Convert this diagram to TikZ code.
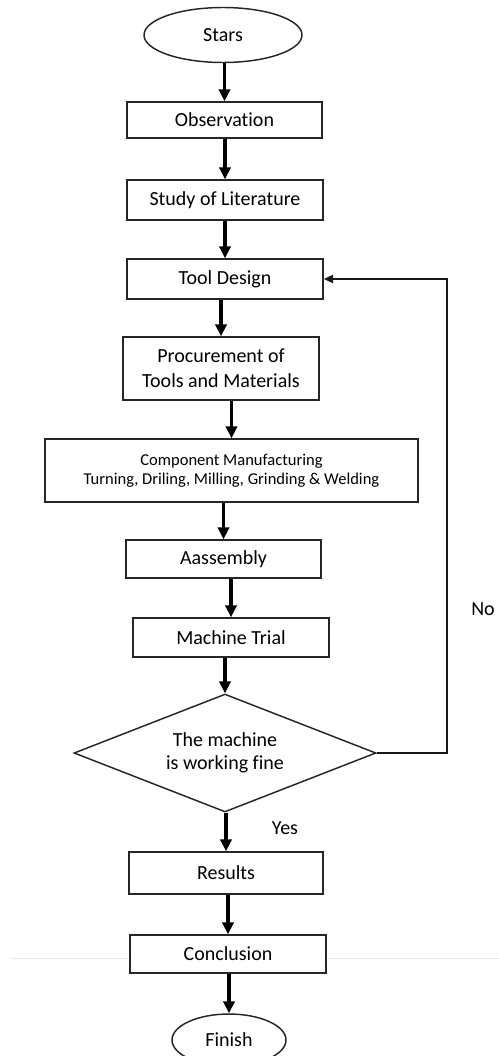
\documentclass[tikz,border=0pt]{standalone}
\usepackage{fontspec}
\setmainfont{Carlito}[Ligatures = NoCommon]
\usetikzlibrary{shapes.geometric, arrows.meta}

\begin{document}
\begin{tikzpicture}[x = .75pt, y = -.75pt,
    box/.style = {draw = black!85, line width = 1.1pt, fill = white, rectangle, align = center, inner sep = 2pt, font = \fontsize{15}{18.75}\selectfont},
    term/.style = {draw = black!85, line width = 1.1pt, fill = white, ellipse, inner sep = 0pt, font = \fontsize{15}{18}\selectfont},
    check/.style = {draw = black!85, line width = 1.1pt, fill = white, diamond, aspect = 2.6, inner sep = 0pt, align = center, font = \fontsize{15}{17.25}\selectfont},
    arr/.style = {line width = 2.4pt, -{Triangle[length = 9pt, width = 8.5pt]}},
    back/.style = {line width = 1.6pt, black!90, -{Triangle[length = 7pt, width = 6pt]}}]
        \useasboundingbox (0, 0) rectangle (499, 1056);
        \draw [gray!18, line width = .7pt] (11, 958) -- (499, 958);

        \node [term, minimum width = 118.5pt, minimum height = 41.25pt] (start) at (223, 35) {Stars};
        \node [box, minimum width = 146.25pt, minimum height = 27pt] (obs) at (224.5, 120) {Observation};
        \node [box, minimum width = 147pt, minimum height = 30pt] (lit) at (225, 200) {Study of Literature};
        \node [box, minimum width = 147pt, minimum height = 30pt] (tool) at (225, 279) {Tool Design};
        \node [box, minimum width = 147pt, minimum height = 47.25pt] (proc) at (221, 368.5) {Procurement of\\Tools and Materials};
        \node [box, minimum width = 279.75pt, minimum height = 47.25pt, font = \fontsize{12.4}{14.25}\selectfont] (manu) at (231.5, 470.5) {Component Manufacturing\\Turning, Driling, Milling, Grinding \& Welding};
        \node [box, minimum width = 146.25pt, minimum height = 28.5pt] (asm) at (223.5, 559) {Aassembly};
        \node [box, minimum width = 147pt, minimum height = 29.25pt] (trial) at (231, 637.5) {Machine Trial};
        \node [check, minimum width = 226.5pt, minimum height = 88.5pt] (fine) at (225, 753) {The machine\\is working fine};
        \node [box, minimum width = 145.5pt, minimum height = 31.5pt] (res) at (226, 873) {Results};
        \node [box, minimum width = 147pt, minimum height = 28.5pt] (concl) at (228, 954) {Conclusion};
        \node [term, minimum width = 85.5pt, minimum height = 39pt] (finish) at (229, 1040) {Finish};

        \foreach \a/\b in {start/obs, obs/lit, lit/tool, tool/proc, proc/manu, manu/asm, asm/trial, trial/fine, fine/res, res/concl, concl/finish}
                 {
                   \draw [arr] (\a.south -| \b.north) -- (\b.north);
                 }

        \coordinate (turn) at (447, 753);
        \draw [back] (fine.east) -- (turn) |- (tool.east);

        \node [font = \fontsize{15}{18}\selectfont] (yes) at (285, 828) {Yes};
        \node [font = \fontsize{15}{18}\selectfont] (no) at (483, 609) {No};
\end{tikzpicture}
\end{document}
